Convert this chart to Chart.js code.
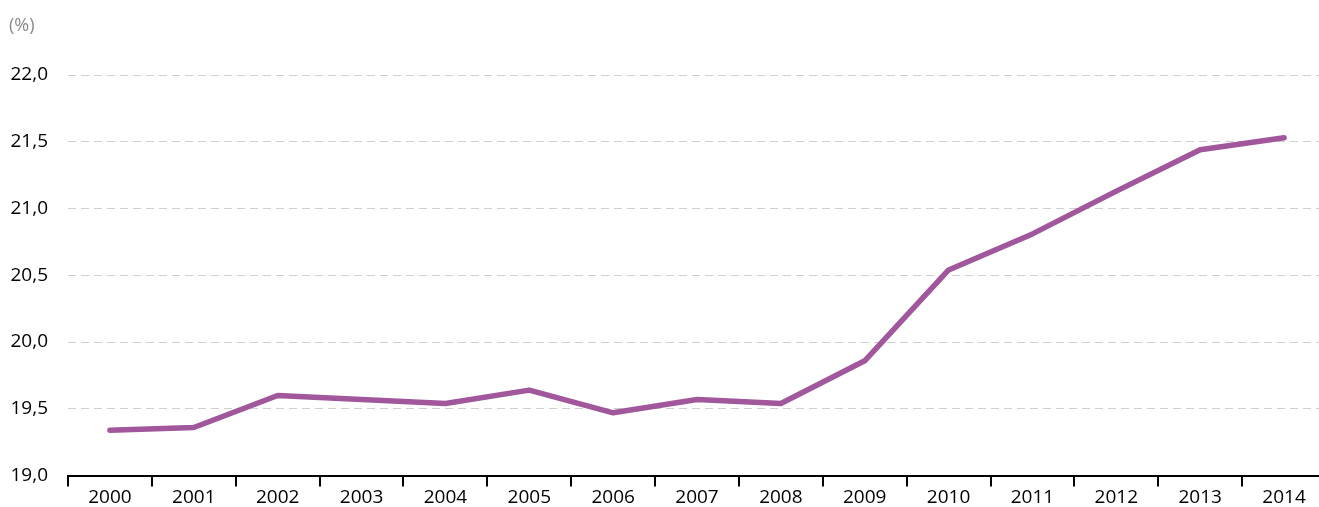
<!DOCTYPE html>
<html lang="fr">
<head>
<meta charset="utf-8">
<title>Graphique</title>
<script src="https://cdn.jsdelivr.net/npm/chart.js@4"></script>
<style>
    html, body { margin: 0; padding: 0; background: #fff; overflow: hidden; }
    #wrap { position: relative; width: 1326px; height: 507px; }
    #unite {
        position: absolute; left: 9px; top: 12px;
        font-family: "Open Sans", sans-serif; font-size: 18px; color: #8a8a8a;
    }
</style>
</head>
<body>
<div id="wrap">
    <div id="unite">(%)</div>
    <canvas id="graphique"></canvas>
</div>
<script>
// Données
const annees = ['2000', '2001', '2002', '2003', '2004', '2005', '2006', '2007',
    '2008', '2009', '2010', '2011', '2012', '2013', '2014'];
const valeurs = [19.34, 19.36, 19.60, 19.57, 19.54, 19.64, 19.47, 19.57,
    19.54, 19.86, 20.54, 20.81, 21.13, 21.44, 21.53];
const graduations = [19.0, 19.5, 20.0, 20.5, 21.0, 21.5, 22.0];

// Format des nombres à la française
function formatNombre(v) {
    return v.toFixed(1).replace('.', ',');
}

const police = { family: '"Open Sans", sans-serif', size: 19 };

new Chart(document.getElementById('graphique'), {
    type: 'line',
    data: {
        labels: annees,
        datasets: [{
            data: valeurs,
            borderColor: '#a0579b',
            borderWidth: 5.5,
            borderCapStyle: 'round',
            borderJoinStyle: 'round',
            pointRadius: 0,
            tension: 0
        }]
    },
    options: {
        responsive: true,
        maintainAspectRatio: false,
        animation: false,
        layout: { padding: { top: 75, right: 0, bottom: 0, left: 0 } },
        plugins: {
            legend: { display: false },
            tooltip: { enabled: false }
        },
        scales: {
            x: {
                offset: true,
                grid: {
                    offset: true,
                    drawOnChartArea: false,
                    tickLength: 11,
                    color: '#000',
                    lineWidth: 2
                },
                border: { color: '#000', width: 2 },
                ticks: { color: '#000', font: police, padding: 0, maxRotation: 0 },
                afterFit: (axe) => { axe.height = 28; }
            },
            y: {
                min: 19,
                max: 22,
                afterBuildTicks: (axe) => {
                    axe.ticks = graduations.map(v => ({ value: v }));
                },
                grid: {
                    color: (ctx) => ctx.tick && ctx.tick.value === 19 ? 'rgba(0,0,0,0)' : '#cfcfcf',
                    lineWidth: 1,
                    drawTicks: false
                },
                border: { display: false, dash: [8, 5] },
                ticks: {
                    color: '#000',
                    font: police,
                    padding: 20,
                    callback: (v) => formatNombre(v)
                },
                afterFit: (axe) => { axe.width = 68; }
            }
        }
    }
});
</script>
</body>
</html>
